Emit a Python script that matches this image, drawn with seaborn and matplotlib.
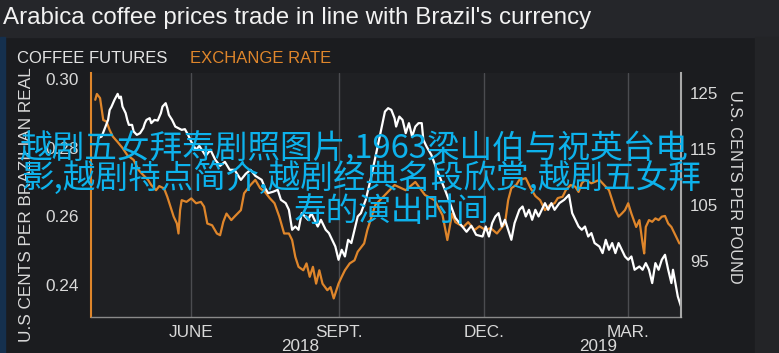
import matplotlib
matplotlib.use("Agg")
import matplotlib.pyplot as plt
import matplotlib.dates as mdates
import pandas as pd
import seaborn as sns
from matplotlib.patches import Rectangle

# ---------------- data ----------------
title = "Arabica coffee prices trade in line with Brazil's currency"
legend_labels = ["COFFEE FUTURES", "EXCHANGE RATE"]
left_label = "U.S CENTS PER BRAZILIAN REAL"
right_label = "U.S. CENTS PER POUND"
month_ticks = ["2018-06-01", "2018-09-01", "2018-12-01", "2019-03-01"]
month_labels = ["JUNE", "SEPT.", "DEC.", "MAR."]
year_labels = ["2018", "2019"]
year_pos = ["2018-08-08", "2019-02-10"]
left_ticks = [0.24, 0.26, 0.28, 0.30]
right_ticks = [95, 105, 115, 125]
overlay_lines = ["越剧五女拜寿剧照图片,1963梁山伯与祝英台电",
                 "影,越剧特点简介,越剧经典名段欣赏,越剧五女拜",
                 "寿的演出时间"]

fx_dates = (
    ["2018-" + d for d in [
        "04-02", "04-03", "04-05", "04-07", "04-09", "04-11", "04-13", "04-16", "04-19", "04-22",
        "04-26", "04-29", "05-02", "05-05", "05-07", "05-10", "05-12", "05-15", "05-17", "05-19",
        "05-21", "05-23", "05-24", "05-25", "05-26", "05-29", "06-01", "06-04", "06-07", "06-09",
        "06-11", "06-14", "06-17", "06-19", "06-21", "06-23", "06-26", "06-28", "07-02", "07-04",
        "07-08", "07-11", "07-14", "07-17", "07-20", "07-23", "07-26", "07-29", "08-01", "08-03",
        "08-05", "08-07", "08-10", "08-12", "08-14", "08-16", "08-18", "08-20", "08-22", "08-25",
        "08-27", "08-29", "09-01", "09-03", "09-05", "09-08", "09-11", "09-13", "09-17", "09-19",
        "09-21", "09-24", "09-30", "10-06", "10-13", "10-19", "10-25", "10-31", "11-05", "11-08",
        "11-11", "11-13", "11-18", "11-21", "11-25", "11-28", "12-02", "12-05", "12-09", "12-14",
        "12-16", "12-18", "12-21", "12-23", "12-27", "12-30"]]
    + ["2019-" + d for d in [
        "01-02", "01-05", "01-08", "01-11",
        "01-14", "01-16", "01-19", "01-21", "01-24", "01-27", "01-29", "01-31", "02-02", "02-06",
        "02-11", "02-14", "02-17", "02-19", "02-21", "02-23", "02-25", "02-27", "03-01", "03-03",
        "03-06", "03-08", "03-10", "03-11", "03-12", "03-14", "03-16", "03-18", "03-20", "03-22",
        "03-24", "03-26", "03-28", "03-30", "04-02"]]
)
fx_values = [
    0.2939, 0.2956, 0.2944, 0.2880, 0.2876, 0.2851, 0.2832, 0.2816, 0.2799, 0.2778,
    0.2764, 0.2735, 0.2720, 0.2706, 0.2691, 0.2676, 0.2688, 0.2681, 0.2657, 0.2628,
    0.2599, 0.2579, 0.2550, 0.2618, 0.2647, 0.2642, 0.2652, 0.2638, 0.2642, 0.2628,
    0.2579, 0.2574, 0.2550, 0.2545, 0.2584, 0.2608, 0.2589, 0.2599, 0.2618, 0.2667,
    0.2691, 0.2706, 0.2682, 0.2671, 0.2653, 0.2638, 0.2599, 0.2550, 0.2550, 0.2531,
    0.2482, 0.2453, 0.2443, 0.2463, 0.2424, 0.2453, 0.2404, 0.2443, 0.2404, 0.2385,
    0.2394, 0.2361, 0.2404, 0.2424, 0.2443, 0.2463, 0.2472, 0.2497, 0.2521, 0.2560,
    0.2589, 0.2633, 0.2662, 0.2691, 0.2676, 0.2700, 0.2662, 0.2647, 0.2603, 0.2531,
    0.2608, 0.2583, 0.2569, 0.2583, 0.2560, 0.2571, 0.2560, 0.2566, 0.2550, 0.2579,
    0.2647, 0.2682, 0.2691, 0.2706, 0.2711, 0.2682, 0.2659, 0.2647, 0.2618, 0.2633,
    0.2638, 0.2653, 0.2657, 0.2676, 0.2691, 0.2686, 0.2671, 0.2696, 0.2706, 0.2696,
    0.2706, 0.2691, 0.2676, 0.2647, 0.2618, 0.2599, 0.2608, 0.2618, 0.2638, 0.2608,
    0.2569, 0.2589, 0.2521, 0.2492, 0.2569, 0.2589, 0.2584, 0.2594, 0.2589, 0.2599,
    0.2601, 0.2579, 0.2569, 0.2550, 0.2521,
]

coffee_dates = (
    ["2018-" + d for d in [
        "04-04", "04-06", "04-08", "04-10", "04-11", "04-12", "04-14", "04-16", "04-17", "04-18",
        "04-19", "04-21", "04-22", "04-23", "04-25", "04-26", "04-28", "04-30", "05-02", "05-03",
        "05-04", "05-06", "05-07", "05-09", "05-11", "05-13", "05-14", "05-16", "05-17", "05-18",
        "05-20", "05-22", "05-24", "05-26", "05-28", "05-30", "06-01", "06-04", "06-06", "06-10",
        "06-13", "06-16", "06-19", "06-22", "06-25", "06-28", "07-02", "07-05", "07-08", "07-11",
        "07-15", "07-17", "07-19", "07-22", "07-25", "07-27", "07-30", "08-01", "08-03", "08-05",
        "08-07", "08-09", "08-11", "08-13", "08-15", "08-17", "08-19", "08-21", "08-24", "08-26",
        "08-28", "08-30", "09-01", "09-03", "09-05", "09-07", "09-09", "09-11", "09-13", "09-15",
        "09-18", "09-21", "09-23", "09-25", "09-28", "09-30", "10-02", "10-04", "10-06", "10-07",
        "10-09", "10-11", "10-13", "10-15", "10-17", "10-19", "10-21", "10-23", "10-24", "10-26",
        "10-29", "11-01", "11-04", "11-07", "11-10", "11-13", "11-17", "11-20", "11-23", "11-26",
        "11-30", "12-02", "12-04", "12-06", "12-08", "12-10", "12-12", "12-14", "12-16", "12-18",
        "12-20", "12-23", "12-25", "12-27", "12-29", "12-31"]]
    + ["2019-" + d for d in [
        "01-02", "01-04", "01-06", "01-08",
        "01-10", "01-12", "01-14", "01-17", "01-20", "01-22", "01-23", "01-25", "01-27", "01-29",
        "01-31", "02-02", "02-04", "02-06", "02-08", "02-11", "02-13", "02-15", "02-17", "02-19",
        "02-21", "02-23", "02-25", "02-27", "03-01", "03-03", "03-05", "03-08", "03-10", "03-12",
        "03-14", "03-16", "03-18", "03-20", "03-22", "03-24", "03-26", "03-28", "03-29", "04-01",
        "04-03"]]
)
coffee_values = [
    117.04, 117.27, 118.76, 120.24, 122.02, 122.51, 123.81, 124.88, 124.11, 124.39,
    122.61, 121.44, 120.24, 119.35, 119.35, 118.16, 117.57, 117.87, 118.76, 119.66,
    120.24, 120.55, 119.66, 120.24, 120.12, 121.44, 122.61, 123.22, 122.33, 121.13,
    120.24, 119.05, 118.76, 118.46, 118.59, 117.57, 116.32, 114.90, 115.61, 113.83,
    114.90, 113.12, 112.05, 112.76, 111.34, 111.34, 109.55, 110.62, 111.34, 110.27,
    109.55, 108.13, 107.18, 107.42, 107.77, 105.99, 105.40, 104.21, 100.65, 101.23,
    100.65, 103.62, 103.02, 102.43, 103.62, 102.43, 101.23, 102.43, 100.65, 100.06,
    98.86, 97.67, 95.30, 97.08, 95.89, 98.86, 98.28, 100.65, 103.02, 103.62,
    105.99, 109.55, 112.23, 114.90, 119.05, 121.72, 122.33, 122.02, 120.55, 119.05,
    120.83, 120.24, 117.87, 119.66, 117.27, 119.05, 119.66, 119.66, 116.68, 115.49,
    114.01, 111.69, 109.55, 107.42, 105.10, 102.78, 101.36, 100.29, 101.36, 99.75,
    99.45, 101.23, 99.45, 101.84, 103.02, 103.62, 101.23, 102.43, 100.65, 98.86,
    101.84, 104.21, 104.80, 103.02, 104.21, 102.43, 104.21, 103.02, 104.21, 105.40,
    104.21, 105.40, 104.21, 105.40, 105.99, 106.58, 106.88, 103.62, 102.43, 101.23,
    100.65, 101.23, 99.45, 100.06, 98.28, 97.67, 96.49, 98.86, 97.08, 98.28,
    96.49, 98.28, 97.08, 95.89, 95.30, 95.89, 93.52, 94.11, 93.52, 94.71,
    93.52, 91.15, 94.71, 93.52, 95.30, 96.19, 93.52, 91.15, 93.52, 88.76,
    86.98,
]

# ---------------- style ----------------
sns.set_style("dark")
SANS = ["Liberation Sans", "DejaVu Sans"]
plt.rcParams["font.family"] = SANS

ORANGE = "#df862b"
WHITE = "#ffffff"
TXT = "#d9d9d9"
PANEL = "#1b1c1f"
TOPBAR = "#25262a"
PLOTBG = "#1f2023"
CYAN = "#0db2ec"

W, H = 779, 353
fig = plt.figure(figsize=(W / 100, H / 100), dpi=100)
fig.patch.set_facecolor(PANEL)
fig.add_artist(Rectangle((0, 1 - 37 / H), 1, 37 / H, transform=fig.transFigure,
                         color=TOPBAR, zorder=0))
fig.add_artist(Rectangle((0, 0), 5 / W, 1 - 37 / H, transform=fig.transFigure,
                         color="#15304e", zorder=0))
fig.add_artist(Rectangle((755 / W, 0), 24 / W, 1 - 37 / H, transform=fig.transFigure,
                         color="#232427", zorder=0))

ax = fig.add_axes([91 / W, 36 / H, 590 / W, 244 / H])
ax.set_facecolor(PLOTBG)
ax2 = ax.twinx()
ax2.set_facecolor("none")

fx = pd.DataFrame({"date": pd.to_datetime(fx_dates), "value": fx_values})
cf = pd.DataFrame({"date": pd.to_datetime(coffee_dates), "value": coffee_values})

sns.lineplot(data=fx, x="date", y="value", ax=ax, color=ORANGE, linewidth=1.6)
sns.lineplot(data=cf, x="date", y="value", ax=ax2, color=WHITE, linewidth=1.6)

ax.set_xlim(pd.Timestamp("2018-03-30 08:00"), pd.Timestamp("2019-04-03"))
ax.set_ylim(0.2307, 0.3017)
ax2.set_ylim(85.1, 128.6)

for a in (ax, ax2):
    a.set_xlabel("")
    a.set_ylabel("")
    for s in a.spines.values():
        s.set_visible(False)

ax.spines["left"].set_visible(True)
ax.spines["left"].set_color(ORANGE)
ax.spines["left"].set_linewidth(1.5)
ax.spines["bottom"].set_visible(True)
ax.spines["bottom"].set_color("#8a8a8a")
ax.spines["bottom"].set_linewidth(1.0)
ax2.spines["right"].set_visible(True)
ax2.spines["right"].set_color("#a8a8a8")
ax2.spines["right"].set_linewidth(1.5)

ax.set_xticks(pd.to_datetime(month_ticks))
ax.set_xticklabels(month_labels)
ax.grid(axis="x", color="#4b4c50", linewidth=1.0)
ax.grid(axis="y", visible=False)
ax2.grid(False)
ax.set_axisbelow(True)

ax.set_yticks(left_ticks)
ax.set_yticklabels([f"{v:.2f}" for v in left_ticks])
ax2.set_yticks(right_ticks)
ax2.set_yticklabels([str(v) for v in right_ticks])

ax.tick_params(axis="x", length=0, pad=5.5, labelsize=12.3, labelcolor=TXT)
ax.tick_params(axis="y", length=0, pad=8.5, labelsize=12.4, labelcolor=TXT)
ax2.tick_params(axis="y", length=0, pad=6.5, labelsize=12.2, labelcolor=TXT)

# year labels under month labels (baseline ~34 px below the axis)
for lab, pos in zip(year_labels, year_pos):
    ax.annotate(lab, xy=(mdates.date2num(pd.Timestamp(pos)), 0),
                xycoords=ax.get_xaxis_transform(),
                xytext=(0, -34 * 0.72), textcoords="offset points",
                ha="center", va="baseline", fontsize=12.3, color=TXT,
                annotation_clip=False)

# axis titles
fig.text(27 / W, 1 - 205 / H, left_label, rotation=90, ha="center", va="center",
         fontsize=12.4, color=TXT)
fig.text(735 / W, 1 - 187 / H, right_label, rotation=270, ha="center", va="center",
         fontsize=11.8, color=TXT)

# title and legend
fig.text(3 / W, 1 - 18 / H, title, ha="left", va="center", fontsize=17.4,
         color="#f2f2f2")
fig.text(17 / W, 1 - 58.5 / H, legend_labels[0], ha="left", va="center",
         fontsize=12, color="#e4e4e4")
fig.text(190 / W, 1 - 58.5 / H, legend_labels[1], ha="left", va="center",
         fontsize=12, color=ORANGE)

# overlay caption
for txt, cx, cy in zip(overlay_lines, [354, 361, 392], [148, 179, 212.5]):
    fig.text(cx / W, 1 - cy / H, txt, ha="center", va="center", fontsize=23.5,
             color=CYAN, family=["Noto Sans CJK SC", "DejaVu Sans"], zorder=10)

fig.savefig("out.png", dpi=100, facecolor=fig.get_facecolor())
